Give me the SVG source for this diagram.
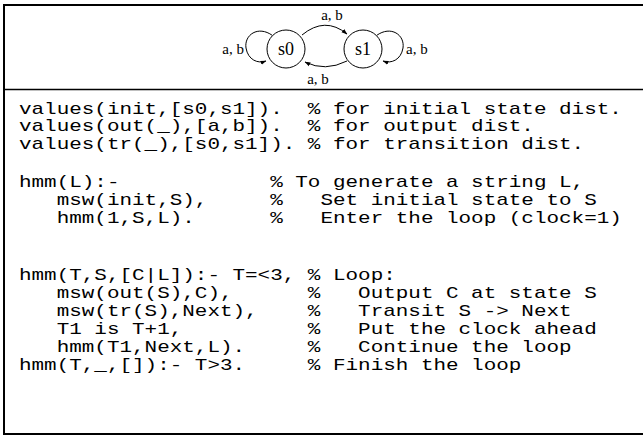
<svg xmlns="http://www.w3.org/2000/svg" width="643" height="438" viewBox="0 0 643 438" xml:space="preserve">
<style>
.frame{fill:none;stroke:#000;stroke-width:2}
.div{stroke:#000;stroke-width:1.5}
.st{fill:#fff;stroke:#000;stroke-width:1}
.edge{fill:none;stroke:#000;stroke-width:1;marker-end:url(#ah)}
.lbl{font-family:"Liberation Serif","Times New Roman",serif;font-size:15px;fill:#000}
.sn{font-family:"Liberation Serif","Times New Roman",serif;font-size:18px;fill:#000;text-anchor:middle}
.code{font-family:"Liberation Mono","Courier New",monospace;font-size:16px;fill:#000;white-space:pre}
</style>
<defs>
<marker id="ah" viewBox="0 0 10 10" refX="9" refY="5" markerWidth="6" markerHeight="6" orient="auto" markerUnits="userSpaceOnUse">
<path d="M0,1.5 L10,5 L0,8.5 z" fill="#000"/>
</marker>
</defs>
<rect class="frame" x="4" y="5" width="660" height="429"/>
<line class="div" x1="4" y1="89.5" x2="643" y2="89.5"/>
<g id="connectors">
<path class="edge" d="M272.5,35.5 C258,25 244,35 246,48 C248,60 258,64 266,61"/>
<path class="edge" d="M376.5,35.5 C391,25 405,35 403,48 C401,60 391,64 383,61"/>
<path class="edge" d="M302,35 Q325,16 347,34"/>
<path class="edge" d="M347,61 Q325,72 305,62"/>
<text class="lbl" x="332" y="20" text-anchor="middle">a, b</text>
<text class="lbl" x="318" y="84" text-anchor="middle">a, b</text>
<text class="lbl" x="244" y="54" text-anchor="end">a, b</text>
<text class="lbl" x="406" y="54">a, b</text>
</g>
<g id="s0"><circle class="st" cx="286" cy="49" r="19"/><text class="sn" x="286" y="55">s0</text></g>
<g id="s1"><circle class="st" cx="363" cy="49" r="19"/><text class="sn" x="363" y="55">s1</text></g>
<g id="program" transform="translate(19,0) scale(1.3085,1)">
<text class="code" x="0" y="114">values(init,[s0,s1]).  % for initial state dist.</text>
<text class="code" x="0" y="131.5">values(out(_),[a,b]).  % for output dist.</text>
<text class="code" x="0" y="149">values(tr(_),[s0,s1]). % for transition dist.</text>
<text class="code" x="0" y="187">hmm(L):-            % To generate a string L,</text>
<text class="code" x="0" y="205">   msw(init,S),     %   Set initial state to S</text>
<text class="code" x="0" y="223">   hmm(1,S,L).      %   Enter the loop (clock=1)</text>
<text class="code" x="0" y="280">hmm(T,S,[C|L]):- T=&lt;3, % Loop:</text>
<text class="code" x="0" y="298">   msw(out(S),C),      %   Output C at state S</text>
<text class="code" x="0" y="316">   msw(tr(S),Next),    %   Transit S -&gt; Next</text>
<text class="code" x="0" y="334">   T1 is T+1,          %   Put the clock ahead</text>
<text class="code" x="0" y="352">   hmm(T1,Next,L).     %   Continue the loop</text>
<text class="code" x="0" y="370">hmm(T,_,[]):- T&gt;3.     % Finish the loop</text>
</g>
</svg>
